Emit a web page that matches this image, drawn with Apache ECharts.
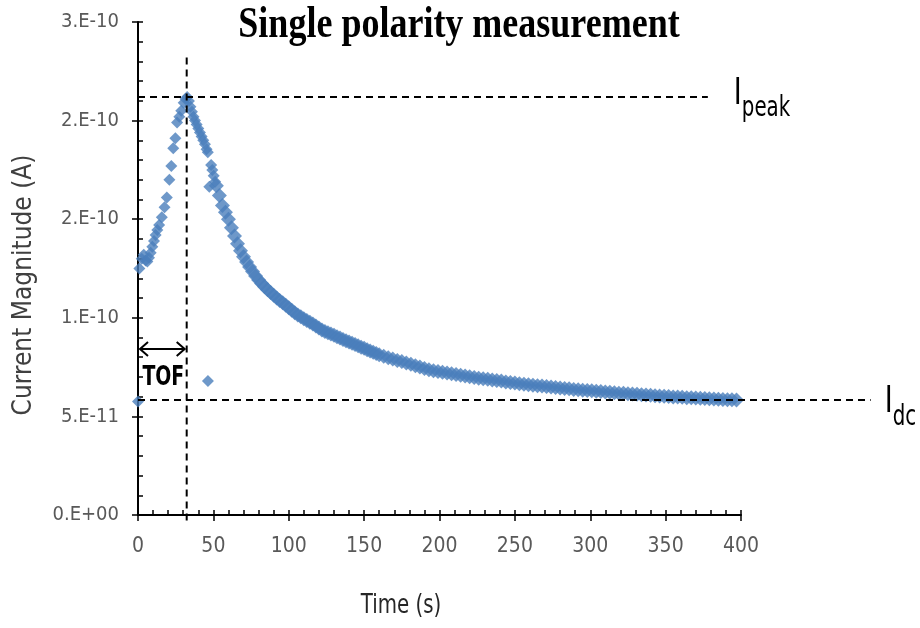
<!DOCTYPE html>
<html><head><meta charset="utf-8">
<script src="https://cdn.jsdelivr.net/npm/echarts@6/dist/echarts.min.js"></script>
<style>html,body{margin:0;padding:0;background:#fff}#c{width:920px;height:628px}</style>
</head><body><div id="c"></div>
<script>
// Current in units of 1e-10 A, time in s
const riseTime = [0, 0.9, 2.5, 3.8, 5.0, 6.2, 7.3, 8.4, 9.5, 10.6, 11.7, 12.8, 14.0, 15.8, 17.6, 19.1, 20.8, 22.1, 23.4, 24.8, 25.9, 27.4, 28.7, 30.3, 31.5, 32.6, 33.8, 34.8, 35.8, 36.8, 37.8, 38.9, 40.0, 41.1, 42.2, 43.3, 44.4, 45.5, 46.3, 46.4, 47.3, 48.5, 49.3, 50.2, 51.2];
const riseCurrent = [0.575, 1.25, 1.30, 1.32, 1.29, 1.285, 1.305, 1.33, 1.36, 1.39, 1.42, 1.445, 1.47, 1.51, 1.56, 1.61, 1.70, 1.77, 1.86, 1.91, 1.99, 2.02, 2.05, 2.09, 2.11, 2.12, 2.10, 2.07, 2.045, 2.02, 2.00, 1.98, 1.96, 1.94, 1.92, 1.90, 1.88, 1.855, 1.84, 0.68, 1.665, 1.775, 1.75, 1.72, 1.69];
const decayTime = [52, 54, 56, 58, 60, 62, 64, 66, 68, 70, 72, 74, 76, 78, 80, 82, 84, 86, 88, 90, 92, 94, 96, 98, 100, 102, 104, 106, 108, 110, 112, 114, 116, 118, 120, 122, 124, 126, 128, 130, 132, 134, 136, 138, 140, 142, 144, 146, 148, 150, 152, 154, 156, 158, 160,
  163, 166, 169, 172, 175, 178, 181, 184, 187, 190, 193, 196, 199, 202, 205, 208, 211, 214, 217, 220, 223, 226, 229, 232, 235, 238, 241, 244, 247, 250, 253, 256, 259, 262, 265, 268, 271, 274, 277, 280, 283, 286, 289, 292, 295, 298, 301, 304, 307, 310, 313, 316, 319, 322, 325, 328, 331, 334, 337, 340, 343, 346, 349, 352, 355, 358, 361, 364, 367, 370, 373, 376, 379, 382, 385, 388, 391, 394, 397];
const decayCurrent = [1.67, 1.62, 1.57, 1.535, 1.50, 1.457, 1.415, 1.375, 1.34, 1.31, 1.283, 1.258, 1.235, 1.212, 1.192, 1.174, 1.157, 1.142, 1.128, 1.114, 1.100, 1.088, 1.076, 1.064, 1.051, 1.038, 1.025, 1.014, 1.005, 0.995, 0.986, 0.977, 0.968, 0.958, 0.948, 0.938, 0.931, 0.924, 0.918, 0.911, 0.904, 0.897, 0.890, 0.884, 0.877, 0.871, 0.864, 0.858, 0.851, 0.845, 0.838, 0.832, 0.825, 0.819, 0.812,
  0.805, 0.798, 0.791, 0.784, 0.778, 0.771, 0.764, 0.757, 0.750, 0.743, 0.737, 0.732, 0.728, 0.724, 0.720, 0.716, 0.713, 0.709, 0.705, 0.701, 0.697, 0.694, 0.691, 0.688, 0.685, 0.682, 0.679, 0.675, 0.672, 0.669, 0.666, 0.663, 0.660, 0.658, 0.656, 0.654, 0.651, 0.649, 0.647, 0.644, 0.642, 0.640, 0.637, 0.635, 0.633, 0.631, 0.630, 0.628, 0.626, 0.624, 0.622, 0.620, 0.618, 0.617, 0.615, 0.613, 0.612, 0.610, 0.609, 0.607, 0.605, 0.604, 0.602, 0.601, 0.599, 0.598, 0.597, 0.595, 0.594, 0.593, 0.592, 0.591, 0.589, 0.588, 0.587, 0.586, 0.585, 0.584, 0.583];
const xTickLabels = ['0', '50', '100', '150', '200', '250', '300', '350', '400'];
const yTickLabels = ['0.E+00', '5.E-11', '1.E-10', '2.E-10', '2.E-10', '3.E-10'];
const peakCurrent = 2.12;   // I_peak
const idcCurrent = 0.583;   // I_dc
const tofTime = 32.3;       // time of flight
const tofArrowCurrent = 0.842;

const NARROW = "'Liberation Sans Narrow','DejaVu Sans Condensed',sans-serif";
const chart = echarts.init(document.getElementById('c'), null, {renderer: 'canvas'});

const risePts = riseTime.map((t, i) => [t, riseCurrent[i]]);
const decayPts = decayTime.map((t, i) => [t, decayCurrent[i]]);

const xBase = {type: 'value', min: 0, max: 400, interval: 50, gridIndex: 0, position: 'bottom', splitLine: {show: false}};
const yBase = {type: 'value', min: 0, max: 2.5, interval: 0.5, gridIndex: 0, position: 'left', splitLine: {show: false}};
const markerColor = '#4a7ebb';

chart.setOption({
  animation: false,
  backgroundColor: '#fff',
  grid: {left: 138, top: 22, right: 179, bottom: 113, containLabel: false},
  xAxis: [
    Object.assign({}, xBase, {
      axisLine: {show: true, lineStyle: {color: '#000', width: 2}},
      axisTick: {show: true, inside: true, length: 5, lineStyle: {color: '#000', width: 1.5}},
      minorTick: {show: true, splitNumber: 5, length: 5, lineStyle: {color: '#000', width: 1.5}},
      axisLabel: {margin: 21, fontFamily: NARROW, fontSize: 21, color: '#595959',
        formatter: (v) => xTickLabels[Math.round(v / 50)]}
    }),
    Object.assign({}, xBase, {
      axisLine: {show: false}, axisLabel: {show: false},
      axisTick: {show: true, inside: false, length: 6, lineStyle: {color: '#000', width: 1.5}}
    })
  ],
  yAxis: [
    Object.assign({}, yBase, {
      axisLine: {show: true, lineStyle: {color: '#000', width: 2}},
      axisTick: {show: true, inside: true, length: 5, lineStyle: {color: '#000', width: 1.5}},
      minorTick: {show: true, splitNumber: 5, length: 5, lineStyle: {color: '#000', width: 1.5}},
      axisLabel: {margin: 19, fontFamily: NARROW, fontSize: 20, color: '#595959',
        formatter: (v) => yTickLabels[Math.round(v / 0.5)]}
    }),
    Object.assign({}, yBase, {
      axisLine: {show: false}, axisLabel: {show: false},
      axisTick: {show: true, inside: false, length: 6, lineStyle: {color: '#000', width: 1.5}}
    })
  ],
  series: [{
    type: 'scatter', xAxisIndex: 0, yAxisIndex: 0,
    symbol: 'diamond', symbolSize: 12,
    itemStyle: {color: markerColor},
    data: risePts
  }, {
    type: 'scatter', xAxisIndex: 0, yAxisIndex: 0,
    symbol: 'diamond', symbolSize: 15,
    itemStyle: {color: markerColor},
    data: decayPts
  }]
});

function px(x, y) { return chart.convertToPixel({xAxisIndex: 0, yAxisIndex: 0}, [x, y]); }
const dash = {stroke: '#000', lineWidth: 2, lineDash: [7, 5]};
const solid = {stroke: '#000', lineWidth: 2, fill: null};

const vTop = px(tofTime, 2.32), vBot = px(tofTime, 0);
const pkL = px(0, peakCurrent), pkR = px(378, peakCurrent);
const dcL = px(0, idcCurrent), dcR = px(486, idcCurrent);
const aL = px(0, tofArrowCurrent), aR = px(tofTime, tofArrowCurrent);
const tofLbl = px(tofTime / 2, 0.695);

chart.setOption({
  graphic: [
    {type: 'text', x: 459, y: 25, z: 10, scaleY: 1.25,
      style: {text: 'Single polarity measurement', font: "bold 36px 'Liberation Serif'", fill: '#000', textAlign: 'center', textVerticalAlign: 'middle'}},
    {type: 'text', x: 24, y: 285, z: 10, rotation: Math.PI / 2,
      style: {text: 'Current Magnitude (A)', font: "26px " + NARROW, fill: '#404040', textAlign: 'center', textVerticalAlign: 'middle'}},
    {type: 'text', x: 401, y: 606, z: 10, scaleY: 1.2,
      style: {text: 'Time (s)', font: "22px " + NARROW, fill: '#262626', textAlign: 'center', textVerticalAlign: 'middle'}},
    {type: 'line', z: 20, shape: {x1: vTop[0], y1: vTop[1], x2: vBot[0], y2: vBot[1] + 8}, style: dash},
    {type: 'line', z: 20, shape: {x1: pkL[0], y1: pkL[1], x2: pkR[0], y2: pkR[1]}, style: dash},
    {type: 'line', z: 20, shape: {x1: dcL[0], y1: dcL[1], x2: dcR[0], y2: dcR[1]}, style: dash},
    {type: 'line', z: 20, shape: {x1: aL[0] + 2, y1: aL[1], x2: aR[0] - 2, y2: aR[1]}, style: solid},
    {type: 'polyline', z: 20, shape: {points: [[aL[0] + 10, aL[1] - 7], [aL[0] + 2, aL[1]], [aL[0] + 10, aL[1] + 7]]}, style: solid},
    {type: 'polyline', z: 20, shape: {points: [[aR[0] - 10, aR[1] - 7], [aR[0] - 2, aR[1]], [aR[0] - 10, aR[1] + 7]]}, style: solid},
    {type: 'text', z: 20, x: tofLbl[0] + 1, y: tofLbl[1], scaleY: 1.25,
      style: {text: 'TOF', font: "600 21px " + NARROW, fill: '#000', textAlign: 'center', textVerticalAlign: 'middle'}},
    {type: 'text', z: 20, x: pkR[0] + 26, y: pkR[1] + 16, scaleY: 1.25,
      style: {text: 'I', font: "30px " + NARROW, fill: '#000', textAlign: 'left', textVerticalAlign: 'bottom'}},
    {type: 'text', z: 20, x: pkR[0] + 34, y: pkR[1] + 26, scaleY: 1.25,
      style: {text: 'peak', font: "22px " + NARROW, fill: '#000', textAlign: 'left', textVerticalAlign: 'bottom'}},
    {type: 'text', z: 20, x: dcR[0] + 14, y: dcR[1] + 21, scaleY: 1.25,
      style: {text: 'I', font: "30px " + NARROW, fill: '#000', textAlign: 'left', textVerticalAlign: 'bottom'}},
    {type: 'text', z: 20, x: dcR[0] + 22, y: dcR[1] + 32, scaleY: 1.25,
      style: {text: 'dc', font: "22px " + NARROW, fill: '#000', textAlign: 'left', textVerticalAlign: 'bottom'}}
  ]
});
</script>
</body></html>
